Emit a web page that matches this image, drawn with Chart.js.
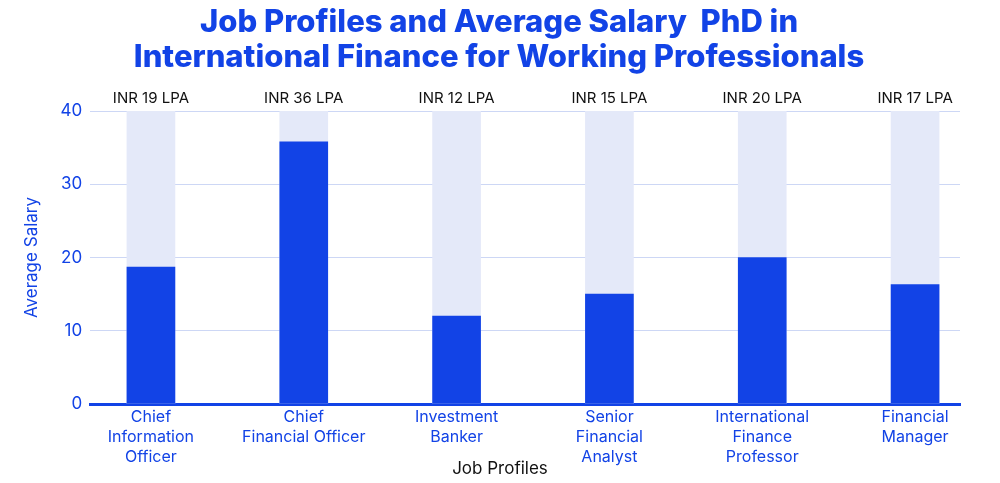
<!DOCTYPE html>
<html>
<head>
<meta charset="utf-8">
<script src="https://cdn.jsdelivr.net/npm/chart.js@4"></script>
<style>
  html, body { margin: 0; padding: 0; background: #fff; }
  #wrap { width: 1000px; height: 483px; }
</style>
</head>
<body>
<div id="wrap"><canvas id="salaryChart" width="1000" height="483"></canvas></div>
<script>
// data
const jobProfiles = [
    ['Chief', 'Information', 'Officer'],
    ['Chief', 'Financial Officer'],
    ['Investment', 'Banker'],
    ['Senior', 'Financial', 'Analyst'],
    ['International', 'Finance', 'Professor'],
    ['Financial', 'Manager']
];
const salaryValues = [18.7, 35.8, 12, 15, 20, 16.3];
const salaryLabels = ['INR 19 LPA', 'INR 36 LPA', 'INR 12 LPA', 'INR 15 LPA', 'INR 20 LPA', 'INR 17 LPA'];
const trackMax = 40;
const yTicks = [0, 10, 20, 30, 40];
const titleLines = ['Job Profiles and Average Salary  PhD in', 'International Finance for Working Professionals'];

const BLUE = '#1243e6';
const FONT = 'Inter, "Noto Sans", sans-serif';

// chart title, "INR xx LPA" text above each column, x axis title
const extraText = {
    id: 'extraText',
    afterDatasetsDraw(chart) {
        const ctx = chart.ctx;
        const xs = chart.scales.x;
        ctx.save();
        ctx.textAlign = 'center';

        ctx.font = '800 31px ' + FONT;
        ctx.fillStyle = BLUE;
        ctx.textBaseline = 'middle';
        ctx.fillText(titleLines[0], 499, 23);
        ctx.fillText(titleLines[1], 499, 58);

        ctx.font = '15px ' + FONT;
        ctx.fillStyle = '#111';
        ctx.textBaseline = 'bottom';
        salaryLabels.forEach((txt, i) => {
            ctx.fillText(txt, xs.getPixelForValue(i), chart.chartArea.top - 5);
        });

        ctx.font = '17px ' + FONT;
        ctx.textBaseline = 'middle';
        ctx.fillText('Job Profiles', 500, 469);
        ctx.restore();
    }
};

new Chart(document.getElementById('salaryChart'), {
    type: 'bar',
    data: {
        datasets: [{
            label: 'Average Salary',
            data: salaryValues.map((v, i) => ({ x: i, y: v })),
            backgroundColor: BLUE,
            barThickness: 48,
            grouped: false,
            order: 1
        }, {
            label: 'track',
            data: salaryValues.map((v, i) => ({ x: i, y: trackMax })),
            backgroundColor: '#e4e9f9',
            barThickness: 48,
            grouped: false,
            order: 2
        }]
    },
    options: {
        responsive: false,
        animation: false,
        layout: { padding: { left: 22, right: 40, top: 111, bottom: 11 } },
        plugins: {
            legend: { display: false },
            tooltip: { enabled: false },
            title: { display: false }
        },
        scales: {
            x: {
                type: 'linear',
                offset: false,
                min: -0.398,
                max: 5.294,
                afterBuildTicks(scale) {
                    scale.ticks = jobProfiles.map((_, i) => ({ value: i }));
                },
                // keep room below the tick labels so descenders are not clipped
                afterFit(scale) {
                    scale.height += 10;
                },
                ticks: {
                    autoSkip: false,
                    maxRotation: 0,
                    color: BLUE,
                    font: { family: FONT, size: 16, lineHeight: 1.25 },
                    padding: -5,
                    callback: (v) => jobProfiles[v]
                },
                grid: { display: false },
                border: { display: true, color: BLUE, width: 3 }
            },
            y: {
                min: 0,
                max: 40,
                afterBuildTicks(scale) {
                    scale.ticks = yTicks.map(v => ({ value: v }));
                },
                ticks: {
                    color: BLUE,
                    font: { family: FONT, size: 17 },
                    padding: 8
                },
                grid: { color: '#cdd7f5', drawTicks: false },
                border: { display: false },
                title: {
                    display: true,
                    text: 'Average Salary',
                    color: BLUE,
                    font: { family: FONT, size: 17 },
                    padding: { top: 0, bottom: 10 }
                }
            }
        }
    },
    plugins: [extraText]
});
</script>
</body>
</html>
